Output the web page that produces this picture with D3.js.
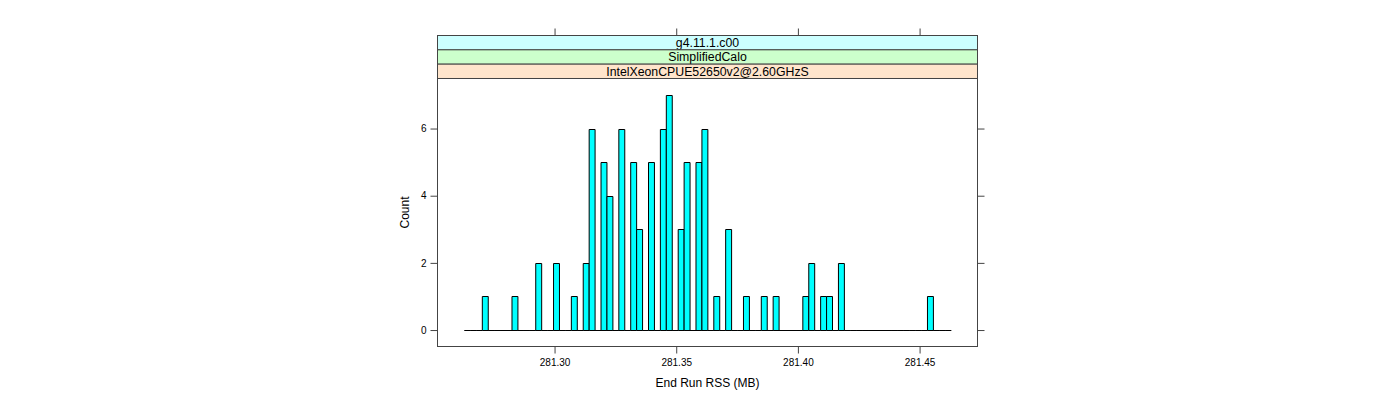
<!DOCTYPE html>
<html><head><meta charset="utf-8">
<script src="https://cdn.jsdelivr.net/npm/d3@7"></script>
<style>body{margin:0;background:#fff;} svg{display:block;} text{font-family:"Liberation Sans",Arial,Helvetica,sans-serif;}</style>
</head><body>
<script>
// Data
const stripLabels = ["g4.11.1.c00", "SimplifiedCalo", "IntelXeonCPUE52650v2@2.60GHzS"];
const stripColors = ["#ccffff", "#ccffcc", "#ffe5cc"];
const binStart = 281.263;
const binEnd = 281.463;
const counts = [
  0,0,0,1,0,0,0,0,1,0, 0,0,2,0,0,2,0,0,1,0,
  2,6,0,5,4,0,6,0,5,3, 0,5,0,6,7,0,3,5,0,5,
  6,0,1,0,3,0,0,1,0,0, 1,0,1,0,0,0,0,1,2,0,
  1,1,0,2,0,0,0,0,0,0, 0,0,0,0,0,0,0,0,1,0,
  0,0
];
const xTicks = [281.30, 281.35, 281.40, 281.45];
const yTicks = [0, 2, 4, 6];
const xDomain = [281.2519, 281.4738];
const yDomain = [-0.49, 7.49];
const xTitle = "End Run RSS (MB)";
const yTitle = "Count";

const W = 1400, H = 400;
const L = 437.5, R = 977.5, T = 78.5, B = 346.5;
const stripTop = 35.5, stripH = 14.33;

const svg = d3.select("body").append("svg").attr("width", W).attr("height", H);
const x = d3.scaleLinear().domain(xDomain).range([L, R]);
const y = d3.scaleLinear().domain(yDomain).range([B, T]);

const nb = counts.length;
const bw = (binEnd - binStart) / nb;
const bins = counts.map((c, i) => ({x0: binStart + i * bw, x1: binStart + (i + 1) * bw, c}));

// bars
svg.append("g").selectAll("path").data(bins).join("path")
  .attr("d", d => {
    const x0 = x(d.x0), x1 = x(d.x1), y0 = Math.round(y(0)) + 0.5, y1 = Math.round(y(d.c)) + 0.5;
    return `M${x0},${y0}V${y1}H${x1}V${y0}Z`;
  })
  .attr("fill", "#00ffff").attr("stroke", "#000").attr("stroke-width", 1);

// panel box
svg.append("rect").attr("x", L).attr("y", T).attr("width", R - L).attr("height", B - T)
  .attr("fill", "none").attr("stroke", "#444").attr("stroke-width", 1);

// strips
stripLabels.forEach((lab, i) => {
  const yy = stripTop + i * stripH;
  svg.append("rect").attr("x", L).attr("y", yy).attr("width", R - L).attr("height", stripH)
    .attr("fill", stripColors[i]).attr("stroke", "#444").attr("stroke-width", 1);
  svg.append("text").attr("x", (L + R) / 2).attr("y", yy + stripH / 2 + 4.3)
    .attr("text-anchor", "middle").attr("font-size", 12.3).attr("fill", "#000").text(lab);
});

// axes
const axB = svg.append("g").attr("transform", `translate(0,${B})`)
  .call(d3.axisBottom(x).tickValues(xTicks).tickFormat(d3.format(".2f")).tickSize(7).tickPadding(5));
const axT = svg.append("g").attr("transform", `translate(0,${stripTop})`)
  .call(d3.axisTop(x).tickValues(xTicks).tickFormat("").tickSize(7));
const axL = svg.append("g").attr("transform", `translate(${L},0)`)
  .call(d3.axisLeft(y).tickValues(yTicks).tickFormat(d3.format("d")).tickSize(7).tickPadding(4));
const axR = svg.append("g").attr("transform", `translate(${R},0)`)
  .call(d3.axisRight(y).tickValues(yTicks).tickFormat("").tickSize(7));
[axB, axT, axL, axR].forEach(a => {
  a.select(".domain").remove();
  a.selectAll(".tick line").attr("stroke", "#444");
  a.selectAll(".tick text").attr("font-family", "'Liberation Sans',Arial,sans-serif").attr("font-size", 10).attr("fill", "#000");
});

// titles
svg.append("text").attr("x", (L + R) / 2).attr("y", 387).attr("text-anchor", "middle")
  .attr("font-size", 12).attr("fill", "#000").text(xTitle);
svg.append("text").attr("transform", `translate(409,${(T + B) / 2}) rotate(-90)`).attr("text-anchor", "middle")
  .attr("font-size", 12).attr("fill", "#000").text(yTitle);
</script>
</body></html>
